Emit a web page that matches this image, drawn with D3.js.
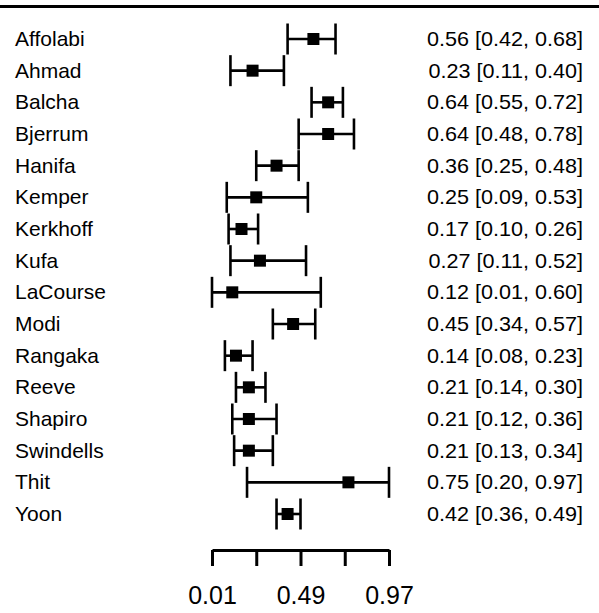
<!DOCTYPE html>
<html>
<head>
<meta charset="utf-8">
<script src="https://cdn.jsdelivr.net/npm/d3@7"></script>
<style>
  body { margin: 0; background: #fff; }
  text { font-family: "Liberation Sans", Arial, sans-serif; fill: #000; }
</style>
</head>
<body>
<div id="chart"></div>
<script>
var studies = ["Affolabi", "Ahmad", "Balcha", "Bjerrum", "Hanifa", "Kemper", "Kerkhoff", "Kufa",
               "LaCourse", "Modi", "Rangaka", "Reeve", "Shapiro", "Swindells", "Thit", "Yoon"];
var estimate = [0.56, 0.23, 0.64, 0.64, 0.36, 0.25, 0.17, 0.27, 0.12, 0.45, 0.14, 0.21, 0.21, 0.21, 0.75, 0.42];
var lower    = [0.42, 0.11, 0.55, 0.48, 0.25, 0.09, 0.10, 0.11, 0.01, 0.34, 0.08, 0.14, 0.12, 0.13, 0.20, 0.36];
var upper    = [0.68, 0.40, 0.72, 0.78, 0.48, 0.53, 0.26, 0.52, 0.60, 0.57, 0.23, 0.30, 0.36, 0.34, 0.97, 0.49];
var tickValues = [0.01, 0.25, 0.49, 0.73, 0.97];
var tickLabels = ["0.01", "", "0.49", "", "0.97"];

var width = 599, height = 613;
var svg, x, y;

function init() {
    initSvg();

    x = d3.scaleLinear().domain([0.01, 0.97]).range([212, 389]);
    y = d3.scalePoint().domain(studies).range([39, 514]);

    drawTopRule();
    drawRows();
    drawAxis();
}

function initSvg() {
    svg = d3.select("#chart").append("svg")
            .attr("width", width)
            .attr("height", height);
}

function drawTopRule() {
    svg.append("line")
       .attr("x1", 0).attr("x2", width)
       .attr("y1", 6.5).attr("y2", 6.5)
       .attr("stroke", "#000")
       .attr("stroke-width", 3);
}

function fmt(v) { return d3.format(".2f")(v); }

function drawRows() {
    var rows = studies.map(function (s, i) {
        return { name: s, est: estimate[i], lo: lower[i], hi: upper[i] };
    });

    var g = svg.selectAll("g.row").data(rows).enter()
               .append("g").attr("class", "row")
               .attr("transform", function (d) { return "translate(0," + y(d.name) + ")"; });

    //study name
    g.append("text")
     .attr("transform", "translate(15,7) scale(1.05,1)")
     .attr("font-size", 20)
     .text(function (d) { return d.name; });

    //CI line
    g.append("line")
     .attr("x1", function (d) { return x(d.lo); })
     .attr("x2", function (d) { return x(d.hi); })
     .attr("stroke", "#000").attr("stroke-width", 2.6);

    //end caps
    ["lo", "hi"].forEach(function (k) {
        g.append("line")
         .attr("x1", function (d) { return x(d[k]); })
         .attr("x2", function (d) { return x(d[k]); })
         .attr("y1", -15.5).attr("y2", 15.5)
         .attr("stroke", "#000").attr("stroke-width", 2.6);
    });

    //point estimate
    g.append("rect")
     .attr("x", function (d) { return x(d.est) - 6; })
     .attr("y", -6)
     .attr("width", 12).attr("height", 12)
     .attr("fill", "#000");

    //estimate text
    g.append("text")
     .attr("transform", "translate(583,7) scale(1.08,1)")
     .attr("text-anchor", "end")
     .attr("font-size", 20)
     .text(function (d) { return fmt(d.est) + " [" + fmt(d.lo) + ", " + fmt(d.hi) + "]"; });
}

function drawAxis() {
    var axis = d3.axisBottom(x)
                 .tickValues(tickValues)
                 .tickSize(16)
                 .tickSizeOuter(0)
                 .tickPadding(20)
                 .tickFormat(function (d, i) { return tickLabels[i]; });

    var ax = svg.append("g")
                .attr("transform", "translate(0,550)")
                .call(axis);

    ax.select(".domain").attr("stroke-width", 3);
    ax.selectAll(".tick line").attr("stroke-width", 3);
    ax.selectAll(".tick text")
      .attr("font-size", 25)
      .attr("font-family", "Liberation Sans, Arial, sans-serif")
      .attr("fill", "#000");
}

init();
</script>
</body>
</html>
